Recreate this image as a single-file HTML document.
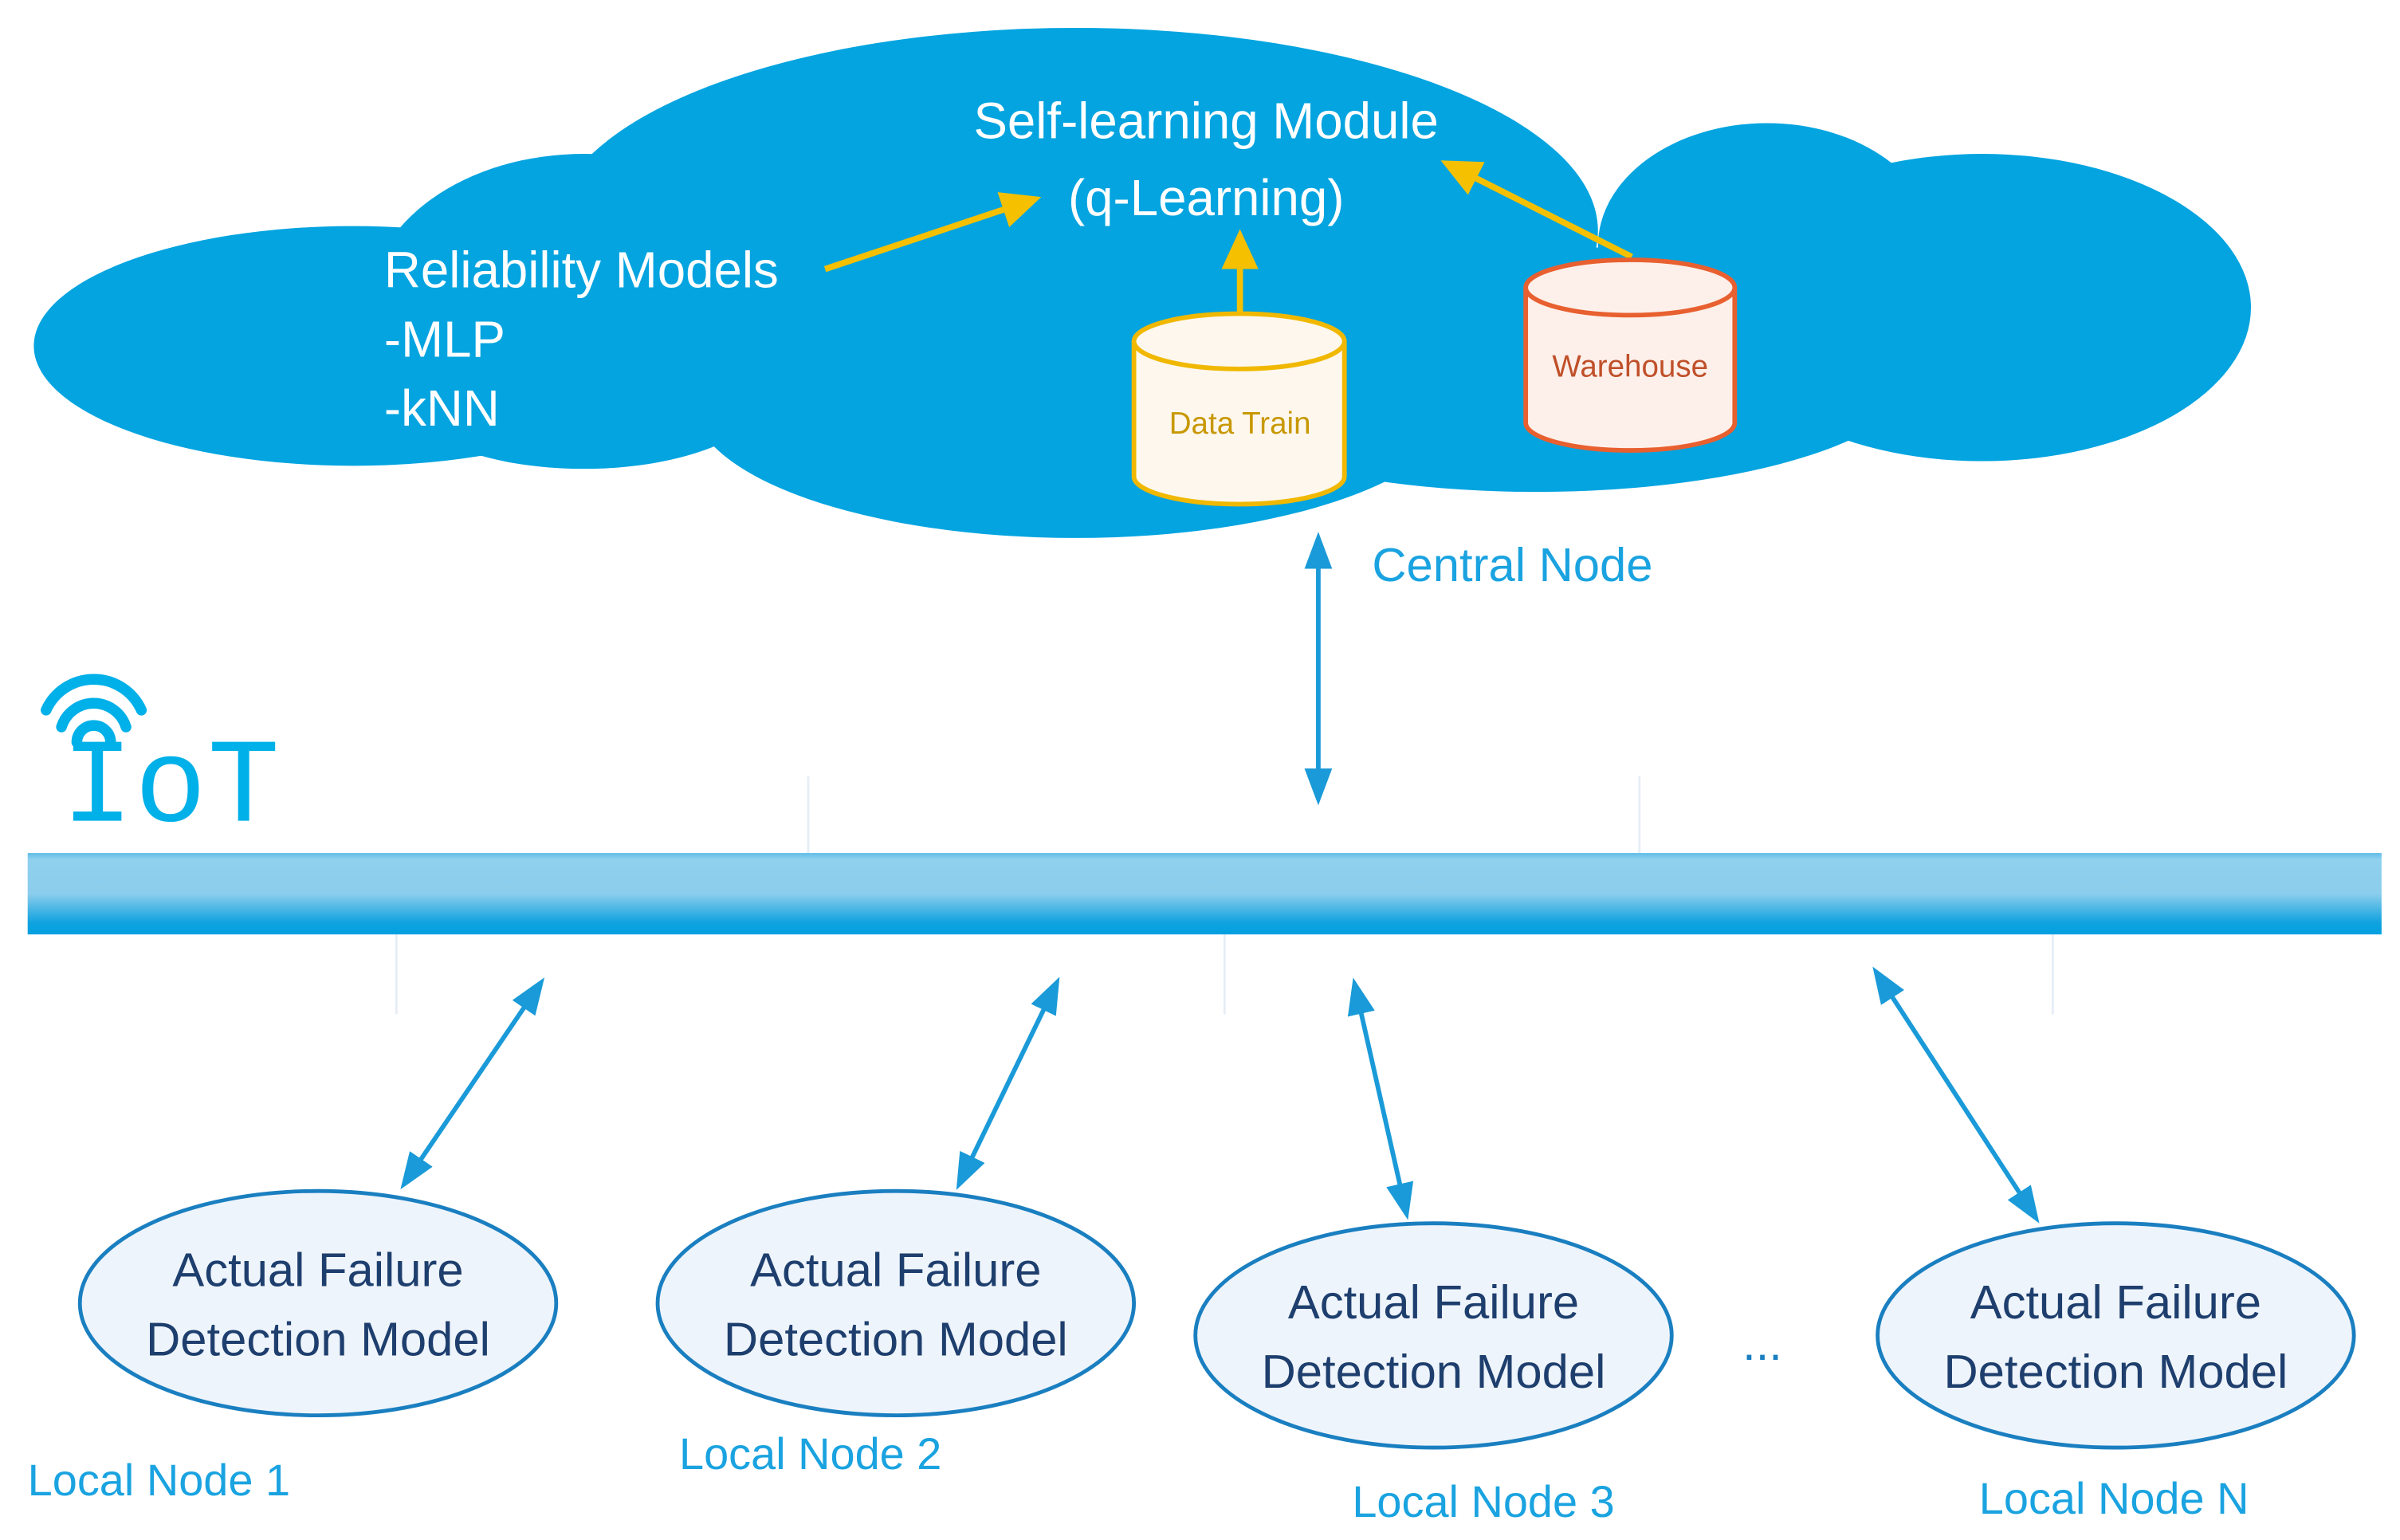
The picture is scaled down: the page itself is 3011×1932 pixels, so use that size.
<!DOCTYPE html>
<html><head><meta charset="utf-8"><style>html,body{margin:0;padding:0;background:#fff}svg{display:block}</style></head>
<body>
<svg width="3011" height="1932" viewBox="0 0 1562 1002" xmlns="http://www.w3.org/2000/svg" font-family="Liberation Sans, sans-serif">
<defs>
<linearGradient id="bar" x1="0" y1="0" x2="0" y2="1">
<stop offset="0" stop-color="#5fbde8"/><stop offset="0.08" stop-color="#8fd0ee"/><stop offset="0.5" stop-color="#8bcdec"/><stop offset="0.85" stop-color="#12a3e0"/><stop offset="1" stop-color="#009fe0"/></linearGradient>
<marker id="ay" markerWidth="6.5" markerHeight="6" refX="5" refY="3" orient="auto" markerUnits="strokeWidth"><path d="M0,0 L6.5,3 L0,6 Z" fill="#f5c000"/></marker>
<marker id="ab" markerWidth="8" markerHeight="6" refX="6" refY="3" orient="auto-start-reverse" markerUnits="strokeWidth"><path d="M0,0 L8,3 L0,6 Z" fill="#1a9ad8"/></marker>
</defs>
<g fill="#03a4e0">
<ellipse cx="700" cy="150" rx="340" ry="132"/>
<ellipse cx="230" cy="225" rx="208" ry="78"/>
<ellipse cx="380" cy="200" rx="140" ry="100"/>
<ellipse cx="1150" cy="160" rx="110" ry="80"/>
<ellipse cx="1290" cy="200" rx="175" ry="100"/>
<ellipse cx="700" cy="260" rx="250" ry="90"/>
<ellipse cx="1000" cy="240" rx="250" ry="80"/>
<ellipse cx="380" cy="255" rx="120" ry="50"/>
</g>
<g fill="#fff" font-size="33">
<text x="785" y="90" text-anchor="middle">Self-learning Module</text>
<text x="785" y="140" text-anchor="middle">(q-Learning)</text>
<text x="250" y="187">Reliability Models</text>
<text x="250" y="232">-MLP</text>
<text x="250" y="277">-kNN</text>
</g>
<g stroke="#f5c000" stroke-width="4" fill="none">
<line x1="537" y1="175" x2="672" y2="130" marker-end="url(#ay)"/>
<line x1="807" y1="205" x2="807" y2="155" marker-end="url(#ay)"/>
<line x1="1062" y1="167" x2="943" y2="107" marker-end="url(#ay)"/>
</g>
<path d="M738,222 L738,310 A68.5,18 0 0 0 875,310 L875,222" fill="#fdf7ee" stroke="#f0b800" stroke-width="3"/>
<ellipse cx="806.5" cy="222" rx="68.5" ry="18" fill="#fdf7ee" stroke="#f0b800" stroke-width="3"/>
<text x="807" y="282" text-anchor="middle" font-size="20" fill="#c89800">Data Train</text>
<path d="M993,187 L993,275 A68,18 0 0 0 1129,275 L1129,187" fill="#fdf0ea" stroke="#e86030" stroke-width="3"/>
<ellipse cx="1061" cy="187" rx="68" ry="18" fill="#fdf0ea" stroke="#e86030" stroke-width="3"/>
<text x="1061" y="245" text-anchor="middle" font-size="20" fill="#c0502a">Warehouse</text>
<line x1="858" y1="352" x2="858" y2="518" stroke="#1a9ad8" stroke-width="3" marker-start="url(#ab)" marker-end="url(#ab)"/>
<text x="893" y="378" font-size="31" fill="#1aa3e0">Central Node</text>
<g fill="none" stroke="#00b0e8" stroke-width="7" stroke-linecap="round">
<path d="M30,462 A34,34 0 0 1 92,462"/>
<path d="M40,473 A22,22 0 0 1 82,473"/>
<path d="M50,483 A11,11 0 0 1 72,483"/>
</g>
<text x="40" y="534" font-size="78" fill="#00b0e8" font-family="Liberation Mono, monospace" textLength="142">IoT</text>
<g stroke="#e6eef6" stroke-width="1.5">
<line x1="526" y1="505" x2="526" y2="555"/><line x1="1067" y1="505" x2="1067" y2="555"/>
<line x1="258" y1="608" x2="258" y2="660"/><line x1="797" y1="608" x2="797" y2="660"/><line x1="1336" y1="608" x2="1336" y2="660"/>
</g>
<rect x="18" y="555" width="1532" height="53" fill="url(#bar)"/>
<g stroke="#1a9ad8" stroke-width="3">
<line x1="351" y1="641" x2="264" y2="769" marker-start="url(#ab)" marker-end="url(#ab)"/>
<line x1="687" y1="641" x2="625" y2="769" marker-start="url(#ab)" marker-end="url(#ab)"/>
<line x1="882" y1="642" x2="915" y2="788" marker-start="url(#ab)" marker-end="url(#ab)"/>
<line x1="1222" y1="634" x2="1324" y2="791" marker-start="url(#ab)" marker-end="url(#ab)"/>
</g>
<g fill="#eef4fb" stroke="#1a7fc0" stroke-width="2.5">
<ellipse cx="207" cy="848" rx="155" ry="73"/>
<ellipse cx="583" cy="848" rx="155" ry="73"/>
<ellipse cx="933" cy="869" rx="155" ry="73"/>
<ellipse cx="1377" cy="869" rx="155" ry="73"/>
</g>
<g font-size="31" fill="#1e3f6e" text-anchor="middle">
<text x="207" y="837">Actual Failure</text><text x="207" y="882">Detection Model</text>
<text x="583" y="837">Actual Failure</text><text x="583" y="882">Detection Model</text>
<text x="933" y="858">Actual Failure</text><text x="933" y="903">Detection Model</text>
<text x="1377" y="858">Actual Failure</text><text x="1377" y="903">Detection Model</text>
<text x="1147" y="885" fill="#1a7fc0">...</text>
</g>
<g font-size="29" fill="#1aa3e0">
<text x="18" y="973">Local Node 1</text>
<text x="442" y="956">Local Node 2</text>
<text x="880" y="987">Local Node 3</text>
<text x="1288" y="985">Local Node N</text>
</g>
</svg>
</body></html>
